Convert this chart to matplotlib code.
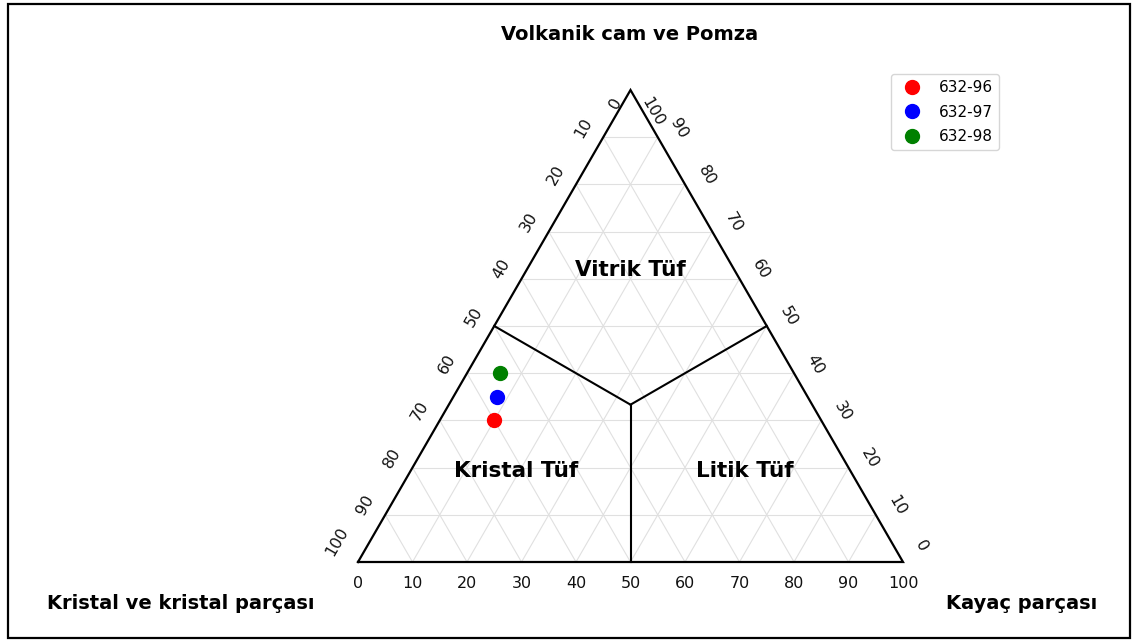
import numpy as np
import matplotlib
matplotlib.use("Agg")
import matplotlib.pyplot as plt
from matplotlib.patches import Rectangle

# Sample compositions (percent): Kristal, Vitrik (cam), Kayaç
samples = ["632-96", "632-97", "632-98"]
kristal = [60, 57, 54]
vitrik = [30, 35, 40]
kayac = [10, 8, 6]
colors = ["red", "blue", "green"]

tick_values = list(range(0, 101, 10))
region_names = ["Vitrik Tüf", "Kristal Tüf", "Litik Tüf"]
title_text = "Volkanik cam ve Pomza"
left_corner_label = "Kristal ve kristal parçası"
right_corner_label = "Kayaç parçası"

H = np.sqrt(3) / 2


def tern(k, v, r):
    """Ternary (kristal, vitrik, kayaç) -> cartesian, side length 100."""
    k, v, r = np.asarray(k, float), np.asarray(v, float), np.asarray(r, float)
    return r + v / 2.0, v * H


W, Hpx = 1138, 643
fig = plt.figure(figsize=(W / 100, Hpx / 100), dpi=100)
ax = fig.add_axes([0, 0, 1, 1])
ppu = 5.45  # pixels per ternary unit
x0_px, y0_px = 358, 562
ax.set_xlim(-x0_px / ppu, (W - x0_px) / ppu)
ax.set_ylim(-(Hpx - y0_px) / ppu, y0_px / ppu)
ax.axis("off")

# grid lines every 10 %
grid_kw = dict(color="#e0e0e0", lw=0.8, zorder=1)
for i in tick_values[1:-1]:
    for a, b in [((100 - i, i, 0), (0, i, 100 - i)),
                 ((100 - i, 0, i), (0, 100 - i, i)),
                 ((i, 0, 100 - i), (i, 100 - i, 0))]:
        xa, ya = tern(*a)
        xb, yb = tern(*b)
        ax.plot([xa, xb], [ya, yb], **grid_kw)

# triangle boundary
cx, cy = tern([100, 0, 0, 100], [0, 0, 100, 0], [0, 100, 0, 0])
ax.plot(cx, cy, color="black", lw=1.6, zorder=3, solid_joinstyle="miter")

# field boundaries meeting at the centroid
c = 100 / 3
for a in [(50, 50, 0), (0, 50, 50), (50, 0, 50)]:
    xa, ya = tern(*a)
    xc, yc = tern(c, c, c)
    ax.plot([xa, xc], [ya, yc], color="black", lw=1.5, zorder=3)

# tick labels
tick_fs = 11.5
tick_col = "#111111"
for t in tick_values:
    # bottom: kayaç
    bx, by = tern(100 - t, 0, t)
    ax.annotate(str(t), (bx, by), xytext=(0, -21 * 0.72), textcoords="offset points",
                ha="center", va="center", fontsize=tick_fs, color=tick_col)
    # left: kristal
    lx, ly = tern(t, 100 - t, 0)
    off = {0: (-15, 13), 100: (-21, -20)}.get(t, (-20, -9.5))
    ax.annotate(str(t), (lx, ly), xytext=(off[0] * 0.72, -off[1] * 0.72),
                textcoords="offset points", ha="center", va="center",
                rotation=60, fontsize=tick_fs, color=tick_col)
    # right: vitrik
    rx, ry = tern(0, t, 100 - t)
    off = {100: (22, 22), 0: (18, -16)}.get(t, (21.5, -9))
    ax.annotate(str(t), (rx, ry), xytext=(off[0] * 0.72, -off[1] * 0.72),
                textcoords="offset points", ha="center", va="center",
                rotation=-60, fontsize=tick_fs, color=tick_col)

# field names
region_fs = 15.5
ax.text(49.9, 53.6, region_names[0], ha="center", va="center", fontsize=region_fs, fontweight="bold")
ax.text(29.0, 16.7, region_names[1], ha="center", va="center", fontsize=region_fs, fontweight="bold")
ax.text(71.0, 16.7, region_names[2], ha="center", va="center", fontsize=region_fs, fontweight="bold")

# corner titles
ax.text(49.9, 96.8, title_text, ha="center", va="center", fontsize=14, fontweight="bold")
ax.text(-32.5, -7.7, left_corner_label, ha="center", va="center", fontsize=14, fontweight="bold")
ax.text(121.8, -7.7, right_corner_label, ha="center", va="center", fontsize=14, fontweight="bold")

# sample points
for name, k, v, r, col in zip(samples, kristal, vitrik, kayac, colors):
    px, py = tern(k, v, r)
    ax.plot(px, py, "o", color=col, markersize=10, label=name, zorder=5, linestyle="none")

ax.legend(loc="upper right", bbox_to_anchor=(999 / W, 1 - 74 / Hpx),
          bbox_transform=fig.transFigure, borderaxespad=0, fontsize=11,
          frameon=True, handletextpad=0.75, borderpad=0.4, labelspacing=0.62)

# outer frame
fig.patches.append(Rectangle((8 / W, 5 / Hpx), 1122 / W, 634 / Hpx, transform=fig.transFigure,
                             fill=False, edgecolor="black", lw=1.6, zorder=10))

fig.savefig("out.png", dpi=100)
